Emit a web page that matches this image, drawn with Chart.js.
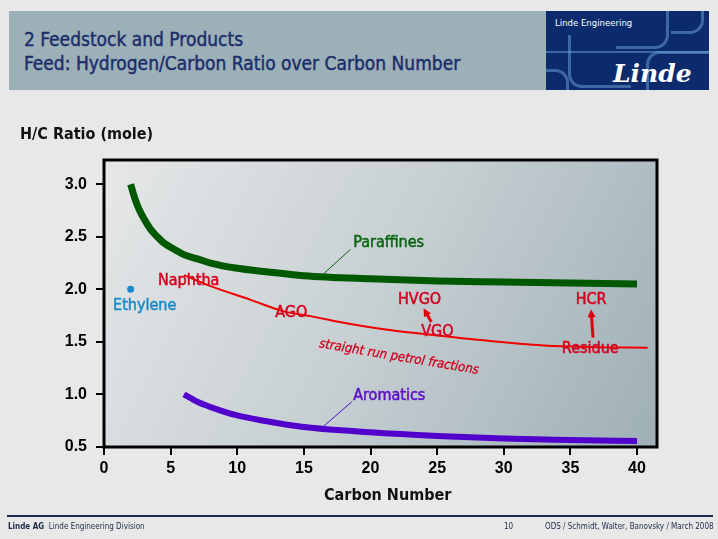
<!DOCTYPE html>
<html>
<head>
<meta charset="utf-8">
<script src="https://cdn.jsdelivr.net/npm/chart.js@4"></script>
<style>
  body { margin: 0; background: #e8e8e8; width: 718px; height: 539px; position: relative; overflow: hidden; font-family: "DejaVu Sans Condensed", "DejaVu Sans", sans-serif; }
  #grafico { position: absolute; left: 0; top: 0; }
  .abs { position: absolute; white-space: nowrap; }
  #cabecalho { left: 9px; top: 11px; width: 537px; height: 79px; background: #9cb0b8; }
  #cabecalho div { position: absolute; left: 15px; color: #1b2d6b; font-size: 19px; line-height: 20px; -webkit-text-stroke: 0.4px #1b2d6b; }
  #logo { left: 546px; top: 11px; width: 163px; height: 79px; background: #0c2b6c; overflow: hidden; }
  #logo .curva { position: absolute; border: 3px solid rgba(110,165,215,0.5); border-radius: 14px; }
  #rodape { left: 7px; top: 515px; width: 706px; height: 0; border-top: 2px solid #1c2a48; }
  .rod { font-size: 8px; color: #1c2a48; top: 522px; }
</style>
</head>
<body>
<canvas id="grafico" width="718" height="539"></canvas>

<div id="cabecalho" class="abs">
  <div style="top:18px">2 Feedstock and Products</div>
  <div style="top:42px">Feed: Hydrogen/Carbon Ratio over Carbon Number</div>
</div>
<div id="logo" class="abs">
  <div class="curva" style="left:22px; top:24px; width:60px; height:50px; border-top:none; border-right:none; border-radius:0 0 0 14px;"></div>
  <div class="curva" style="left:-20px; top:58px; width:40px; height:40px; border-left:none; border-bottom:none; border-radius:0 14px 0 0;"></div>
  <div class="curva" style="left:70px; top:-10px; width:50px; height:45px; border-top:none; border-left:none; border-radius:0 0 14px 0;"></div>
  <div class="curva" style="left:100px; top:40px; width:80px; height:50px; border-right:none; border-bottom:none; border-radius:14px 0 0 0;"></div>
  <div class="curva" style="left:125px; top:-10px; width:30px; height:30px; border-top:none; border-left:none; border-radius:0 0 14px 0;"></div>
  <div class="curva" style="left:0px; top:40px; width:163px; height:0; border-width:2px 0 0 0; border-radius:0;"></div>
  <div class="abs" style="left:9px; top:6px; color:#fff; font-size:9.5px;">Linde Engineering</div>
  <div class="abs" style="left:67px; top:48px; color:#fff; font:italic bold 25px 'DejaVu Serif', serif;">Linde</div>
</div>

<div class="abs" style="left:20px; top:124px; font-weight:bold; font-size:16px; color:#111;">H/C Ratio (mole)</div>
<div class="abs" style="left:324px; top:485px; font-weight:bold; font-size:16px; color:#111;">Carbon Number</div>

<div id="rodape" class="abs"></div>
<div class="abs rod" style="left:8px;"><b>Linde AG</b>&nbsp; Linde Engineering Division</div>
<div class="abs rod" style="left:504px;">10</div>
<div class="abs rod" style="left:545px;">ODS / Schmidt, Walter, Banovsky / March 2008</div>

<script>
// Dados (número de carbonos vs razão H/C)
var parafinasC = [2, 2.25, 2.5, 2.75, 3, 3.5, 4, 4.5, 5, 6, 7, 8, 10, 12, 15, 20, 25, 30, 35, 40];
var parafinasHC = [3.0, 2.89, 2.8, 2.73, 2.67, 2.57, 2.5, 2.44, 2.4, 2.33, 2.29, 2.25, 2.2, 2.17, 2.13, 2.1, 2.08, 2.07, 2.06, 2.05];

var fraccoesC = [6, 8, 11, 13.5, 15.5, 18.5, 21, 24, 28, 33, 37, 40.8];
var fraccoesHC = [2.135, 2.03, 1.9, 1.79, 1.745, 1.67, 1.62, 1.575, 1.52, 1.465, 1.45, 1.445];

var aromaticosC = [6, 7, 8, 10, 12, 15, 20, 25, 30, 35, 40];
var aromaticosHC = [1.0, 0.93, 0.88, 0.8, 0.75, 0.69, 0.64, 0.605, 0.58, 0.567, 0.557];

var etilenoC = [2];
var etilenoHC = [2.0];

var ticksX = [0, 5, 10, 15, 20, 25, 30, 35, 40];
var ticksY = [0.5, 1.0, 1.5, 2.0, 2.5, 3.0];

function pontos(xs, ys) {
    return xs.map(function(x, i) { return { x: x, y: ys[i] }; });
}

// Etiquetas e setas (em coordenadas de dados)
var etiquetas = [
    { texto: 'Paraffines', x: 18.7, y: 2.44, cor: '#0b6410' },
    { texto: 'Aromatics', x: 18.7, y: 0.985, cor: '#6010c8' },
    { texto: 'Naphtha', x: 4.05, y: 2.078, cor: '#d4001e' },
    { texto: 'Ethylene', x: 0.68, y: 1.84, cor: '#1a8ac8' },
    { texto: 'AGO', x: 12.85, y: 1.774, cor: '#d4001e' },
    { texto: 'HVGO', x: 22.06, y: 1.897, cor: '#d4001e' },
    { texto: 'VGO', x: 23.8, y: 1.593, cor: '#d4001e' },
    { texto: 'HCR', x: 35.4, y: 1.897, cor: '#d4001e' },
    { texto: 'Residue', x: 34.36, y: 1.43, cor: '#d4001e' }
];
var guias = [
    { de: [16.5, 2.15], para: [18.5, 2.38], cor: '#0b6410' },
    { de: [16.5, 0.70], para: [18.6, 0.93], cor: '#4a10c0' }
];
var setas = [
    { de: [24.56, 1.69], para: [23.98, 1.82] },
    { de: [36.7, 1.54], para: [36.55, 1.81] }
];

var desenhoPlugin = {
    id: 'desenho',
    beforeDatasetsDraw: function(chart) {
        var a = chart.chartArea, ctx = chart.ctx;
        var g = ctx.createLinearGradient(a.left, a.top, a.right, a.bottom);
        g.addColorStop(0, '#e6e7e8');
        g.addColorStop(0.5, '#c6cfd2');
        g.addColorStop(1, '#9eafb6');
        ctx.save();
        ctx.fillStyle = g;
        ctx.fillRect(a.left, a.top, a.right - a.left, a.bottom - a.top);
        ctx.restore();
    },
    afterDatasetsDraw: function(chart) {
        var a = chart.chartArea, ctx = chart.ctx;
        var sx = chart.scales.x, sy = chart.scales.y;
        function px(v) { return sx.getPixelForValue(v); }
        function py(v) { return sy.getPixelForValue(v); }
        ctx.save();
        // moldura
        ctx.strokeStyle = '#000';
        ctx.lineWidth = 3;
        ctx.strokeRect(a.left, a.top, a.right - a.left, a.bottom - a.top);

        // linhas guia
        ctx.lineWidth = 1;
        guias.forEach(function(l) {
            ctx.strokeStyle = l.cor;
            ctx.beginPath();
            ctx.moveTo(px(l.de[0]), py(l.de[1]));
            ctx.lineTo(px(l.para[0]), py(l.para[1]));
            ctx.stroke();
        });

        // setas
        ctx.strokeStyle = '#e00010';
        ctx.fillStyle = '#e00010';
        setas.forEach(function(s) {
            var x0 = px(s.de[0]), y0 = py(s.de[1]), x1 = px(s.para[0]), y1 = py(s.para[1]);
            var ang = Math.atan2(y1 - y0, x1 - x0);
            ctx.lineWidth = 3;
            ctx.beginPath();
            ctx.moveTo(x0, y0);
            ctx.lineTo(x1 - 5 * Math.cos(ang), y1 - 5 * Math.sin(ang));
            ctx.stroke();
            ctx.beginPath();
            ctx.moveTo(x1, y1);
            ctx.lineTo(x1 - 8 * Math.cos(ang) + 4 * Math.sin(ang), y1 - 8 * Math.sin(ang) - 4 * Math.cos(ang));
            ctx.lineTo(x1 - 8 * Math.cos(ang) - 4 * Math.sin(ang), y1 - 8 * Math.sin(ang) + 4 * Math.cos(ang));
            ctx.closePath();
            ctx.fill();
        });

        // textos
        ctx.font = '16px "DejaVu Sans Condensed", sans-serif';
        ctx.textBaseline = 'middle';
        ctx.textAlign = 'left';
        ctx.lineWidth = 0.5;
        etiquetas.forEach(function(e) {
            ctx.fillStyle = e.cor;
            ctx.strokeStyle = e.cor;
            ctx.fillText(e.texto, px(e.x), py(e.y));
            ctx.strokeText(e.texto, px(e.x), py(e.y));
        });

        // texto inclinado
        ctx.translate(px(16.15), py(1.48));
        ctx.rotate(9.5 * Math.PI / 180);
        ctx.font = 'italic 13px "DejaVu Sans Condensed", sans-serif';
        ctx.fillStyle = '#d4001e';
        ctx.strokeStyle = '#d4001e';
        ctx.lineWidth = 0.3;
        ctx.fillText('straight run petrol fractions', 0, 0);
        ctx.strokeText('straight run petrol fractions', 0, 0);
        ctx.restore();
    }
};

Chart.defaults.font.family = '"Liberation Sans", Arial, sans-serif';

new Chart(document.getElementById('grafico').getContext('2d'), {
    type: 'line',
    data: {
        datasets: [{
            label: 'Paraffines',
            data: pontos(parafinasC, parafinasHC),
            borderColor: '#005800',
            borderWidth: 7,
            pointRadius: 0,
            cubicInterpolationMode: 'monotone'
        }, {
            label: 'straight run petrol fractions',
            data: pontos(fraccoesC, fraccoesHC),
            borderColor: '#f20000',
            borderWidth: 2,
            pointRadius: 0,
            cubicInterpolationMode: 'monotone'
        }, {
            label: 'Aromatics',
            data: pontos(aromaticosC, aromaticosHC),
            borderColor: '#5200cc',
            borderWidth: 6,
            pointRadius: 0,
            cubicInterpolationMode: 'monotone'
        }, {
            label: 'Ethylene',
            data: pontos(etilenoC, etilenoHC),
            showLine: false,
            pointRadius: 3.5,
            pointBorderWidth: 0,
            backgroundColor: '#1a88cc',
            borderColor: '#1a88cc'
        }]
    },
    options: {
        responsive: false,
        animation: false,
        layout: { padding: { top: 160, right: 61, left: 0, bottom: 0 } },
        plugins: { legend: { display: false }, tooltip: { enabled: false } },
        scales: {
            x: {
                type: 'linear',
                min: 0,
                max: 41.5,
                afterFit: function(s) { s.height = 92; },
                afterBuildTicks: function(s) { s.ticks = ticksX.map(function(v) { return { value: v }; }); },
                ticks: { color: '#000', font: { size: 16, weight: 'bold' }, padding: 4 },
                grid: { drawOnChartArea: false, color: '#000', lineWidth: 2, tickLength: 8 },
                border: { display: false }
            },
            y: {
                min: 0.5,
                max: 3.23,
                afterFit: function(s) { s.width = 104; },
                afterBuildTicks: function(s) { s.ticks = ticksY.map(function(v) { return { value: v }; }); },
                ticks: {
                    color: '#000',
                    font: { size: 16, weight: 'bold' },
                    padding: 9,
                    callback: function(v) { return v.toFixed(1); }
                },
                grid: { drawOnChartArea: false, color: '#000', lineWidth: 2, tickLength: 8 },
                border: { display: false }
            }
        }
    },
    plugins: [desenhoPlugin]
});
</script>
</body>
</html>
